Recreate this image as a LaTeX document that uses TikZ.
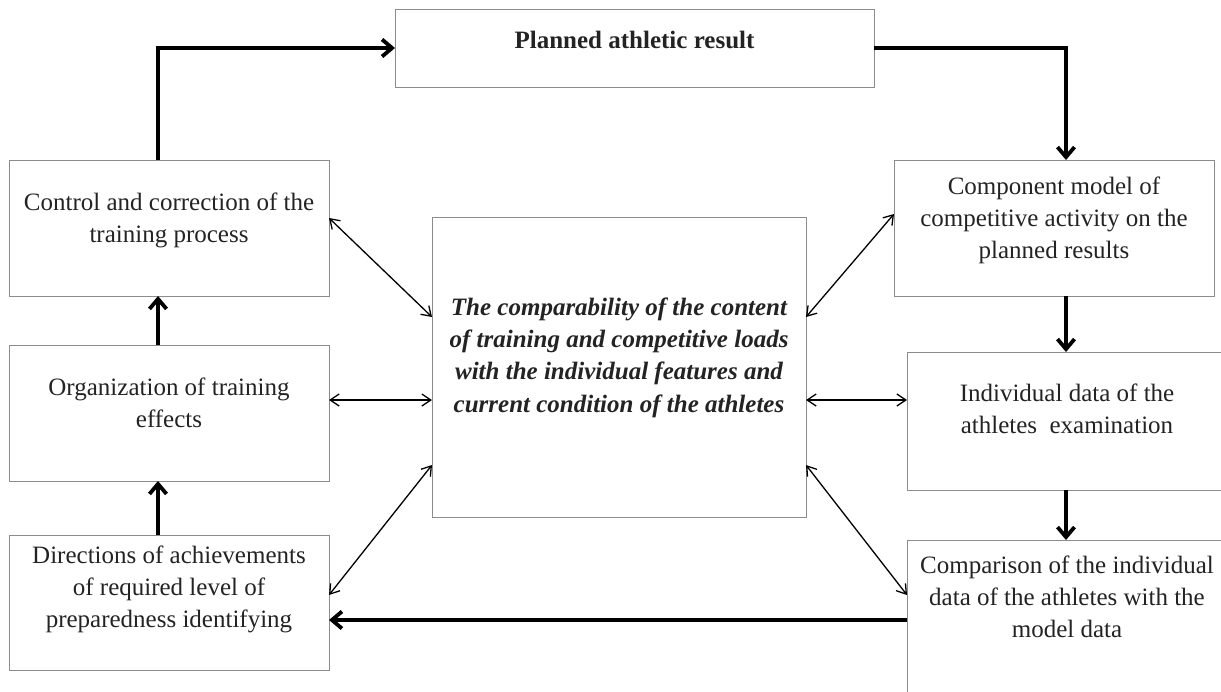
\documentclass[tikz,border=0pt]{standalone}
\usepackage{fontspec}
\setmainfont{Liberation Serif}
\usetikzlibrary{arrows.meta}
\definecolor{boxgray}{RGB}{140,140,140}
\definecolor{txtcol}{RGB}{35,35,35}
\begin{document}
\begin{tikzpicture}[x=1pt,y=1pt,
  box/.style={draw=boxgray, line width=1pt, inner sep=0pt, outer sep=0pt, anchor=north west},
  txt/.style={text=txtcol, align=center, anchor=base, inner sep=0pt, font=\fontsize{25}{32}\selectfont},
  thickarr/.style={line width=3.8pt, -{Straight Barb[length=10pt,width=17pt]}},
  dbl/.style={line width=1.3pt, {Straight Barb[length=9pt,width=12pt]}-{Straight Barb[length=9pt,width=12pt]}}
]
\useasboundingbox (0,0) rectangle (1221,-691);
% boxes
\node[box, minimum width=479pt, minimum height=78pt] (T) at (395,-9) {};
\node[box, minimum width=320pt, minimum height=136pt] (C1) at (9,-160) {};
\node[box, minimum width=320pt, minimum height=136pt] (C2) at (9,-345) {};
\node[box, minimum width=320pt, minimum height=135pt] (C3) at (9,-535) {};
\node[box, minimum width=320pt, minimum height=136pt] (R1) at (894,-160) {};
\node[box, minimum width=340pt, minimum height=138pt] (R2) at (907,-352) {};
\node[box, minimum width=340pt, minimum height=180pt] (R3) at (907,-540) {};
\node[box, minimum width=374pt, minimum height=300pt] (M) at (432,-217) {};
% texts (base = baseline of the last line)
\node[txt, font=\fontsize{25}{32}\selectfont\bfseries] (Tt) at (634.5,-48) {Planned athletic result};
\node[txt] (C1t) at (169,-242) {Control and correction of the\\training process};
\node[txt] (C2t) at (169,-427) {Organization of training\\effects};
\node[txt] (C3t) at (169,-627) {Directions of achievements\\of required level of\\preparedness identifying};
\node[txt] (R1t) at (1054,-258) {Component model of\\competitive activity on the\\planned results};
\node[txt] (R2t) at (1067,-433) {Individual data of the\\athletes\ \ examination};
\node[txt] (R3t) at (1067,-637) {Comparison of the individual\\data of the athletes with the\\model data};
\node[txt, font=\fontsize{25}{32.3}\selectfont\bfseries\itshape] (Mt) at (619,-412) {The comparability of the content\\of training and competitive loads\\with the individual features and\\current condition of the athletes};
% thick connectors
\draw[thickarr] ([xshift=-11pt]C1.north) |- (T.west);
\draw[thickarr] (T.east) -| ([xshift=12pt]R1.north);
\draw[thickarr] ([xshift=12pt]R1.south) -- ([xshift=12pt]R1.south |- R2.north);
\draw[thickarr] ([xshift=12pt]R1.south |- R2.south) -- ([xshift=12pt]R1.south |- R3.north);
\draw[thickarr] ([xshift=-11pt]C2.north) -- ([xshift=-11pt]C1.south);
\draw[thickarr] ([xshift=-11pt]C3.north) -- ([xshift=-11pt]C2.south);
\draw[thickarr] ([yshift=-80pt]R3.north west) -- ([yshift=-80pt]R3.north west -| C3.east);
% thin double connectors
\draw[dbl] ([yshift=-58pt]C1.north east) -- ([yshift=-100pt]M.north west);
\draw[dbl] ([yshift=-100pt]M.north east) -- ([yshift=-54pt]R1.north west);
\draw[dbl] ([yshift=-55pt]C2.north east) -- ([yshift=-55pt]C2.north east -| M.west);
\draw[dbl] ([yshift=-183pt]M.north east) -- ([yshift=-183pt]M.north east -| R2.west);
\draw[dbl] ([yshift=-248pt]M.north west) -- ([yshift=-60pt]C3.north east);
\draw[dbl] ([yshift=-248pt]M.north east) -- ([yshift=-55pt]R3.north west);
\end{tikzpicture}
\end{document}
